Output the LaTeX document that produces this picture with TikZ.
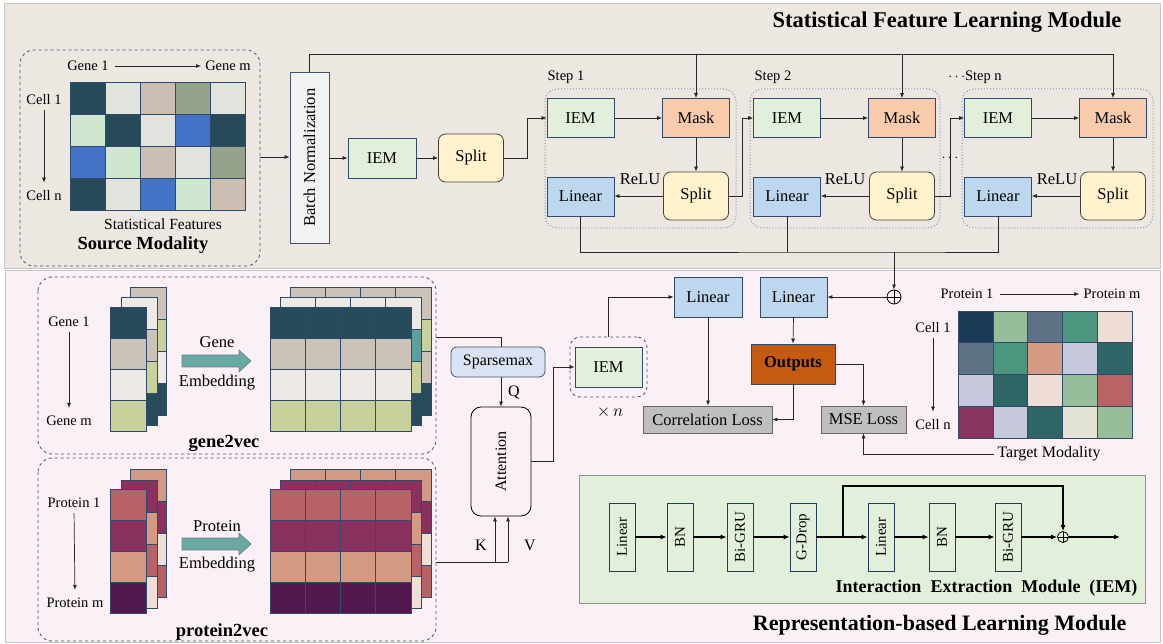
\documentclass[tikz,border=0pt]{standalone}
\usepackage{fontspec}
\setmainfont{Liberation Serif}
\usepackage{graphicx}
\usetikzlibrary{arrows.meta}

% panel and block colours
\definecolor{topbg}{HTML}{ECE7E1}
\definecolor{botbg}{HTML}{FBF0F6}
\definecolor{panelline}{HTML}{C4C4C4}
\definecolor{boxline}{HTML}{2F4A6B}
\definecolor{iemfill}{HTML}{E2EFDA}
\definecolor{maskfill}{HTML}{F8CBAD}
\definecolor{splitfill}{HTML}{FFF2CC}
\definecolor{linfill}{HTML}{BDD7EE}
\definecolor{outfill}{HTML}{C55A11}
\definecolor{lossfill}{HTML}{BFBFBF}
\definecolor{sparsefill}{HTML}{DAE3F3}
\definecolor{bnfill}{HTML}{F2F2F2}
\definecolor{stepline}{HTML}{7F95B5}
\definecolor{dashline}{HTML}{44546A}
\definecolor{wirecol}{HTML}{262626}
\definecolor{embarrow}{HTML}{6AA8A4}
\definecolor{iemframe}{HTML}{8A968A}
\definecolor{gridline}{HTML}{2F4A6B}
% source matrix
\definecolor{sDark}{HTML}{264A5A}
\definecolor{sGrey}{HTML}{E1E3DD}
\definecolor{sTaupe}{HTML}{CBBFB4}
\definecolor{sSage}{HTML}{95A38C}
\definecolor{sMint}{HTML}{CFE6D1}
\definecolor{sBlue}{HTML}{4472C4}
% gene embedding
\definecolor{gDark}{HTML}{274B5B}
\definecolor{gTaupe}{HTML}{CCC3B8}
\definecolor{gLight}{HTML}{EDEAE5}
\definecolor{gOlive}{HTML}{C8D09B}
\definecolor{gTeal}{HTML}{5F9EA0}
% protein embedding
\definecolor{pRed}{HTML}{B76266}
\definecolor{pMag}{HTML}{8A3160}
\definecolor{pSalmon}{HTML}{D39A83}
\definecolor{pPurple}{HTML}{51194D}
\definecolor{pCream}{HTML}{EFDFD6}
% target matrix
\definecolor{tNavy}{HTML}{1B3A57}
\definecolor{tSage}{HTML}{97BD9A}
\definecolor{tSlate}{HTML}{5E7286}
\definecolor{tTeal}{HTML}{4C9680}
\definecolor{tCream}{HTML}{EEDDD3}
\definecolor{tSalmon}{HTML}{D49A84}
\definecolor{tLav}{HTML}{C5C9DB}
\definecolor{tDTeal}{HTML}{2E6668}
\definecolor{tRed}{HTML}{B86465}
\definecolor{tMag}{HTML}{8A3560}
\definecolor{tIvory}{HTML}{E2E3D5}

\newcommand\myfs[1]{\fontsize{#1}{#1}\selectfont}

% grid of coloured cells: x, y, cell width, cell height, {{row},{row},...}
\newcommand\cellgrid[5]{%
  \foreach \rowc [count=\ri from 0] in {#5}{%
    \foreach \cc [count=\ci from 0] in \rowc{%
      \filldraw[fill=\cc, draw=gridline, line width=0.6pt]
        ({#1+\ci*#3},{#2+\ri*#4}) rectangle ++(#3,#4);
    }%
  }%
}

\begin{document}
\begin{tikzpicture}[x=1pt,y=-1pt,
  wire/.style={draw=wirecol, line width=0.7pt},
  arr/.style={wire, -{Latex[length=5pt,width=4pt]}},
  thickarr/.style={draw=black, line width=1.3pt, -{Latex[length=6pt,width=5pt]}},
  blk/.style={draw=boxline, line width=0.8pt, inner sep=0pt, font=\myfs{16.5}},
  iembox/.style={blk, fill=iemfill, minimum width=67, minimum height=39},
  maskbox/.style={blk, fill=maskfill, minimum width=67, minimum height=39},
  linbox/.style={blk, fill=linfill, minimum width=67, minimum height=39},
  splitbox/.style={blk, draw=black!75, fill=splitfill, rounded corners=7, minimum width=65, minimum height=48},
  lossbox/.style={blk, draw=black!60, fill=lossfill, minimum height=27},
  stepframe/.style={draw=stepline, dotted, line width=1pt, rounded corners=12},
  dashframe/.style={draw=dashline, dashed, line width=0.8pt, rounded corners=14},
  lbl/.style={inner sep=1pt, font=\myfs{14.5}},
  smallblk/.style={draw=boxline!80!black, line width=0.7pt, fill=iemfill, inner sep=0pt,
    minimum width=26, minimum height=68, font=\myfs{15}},
  oplus/.style={circle, draw=black, line width=0.8pt, inner sep=0pt, minimum size=#1,
    path picture={\draw[line width=0.8pt] (path picture bounding box.north) -- (path picture bounding box.south)
      (path picture bounding box.west) -- (path picture bounding box.east);}},
]
\useasboundingbox (0,0) rectangle (1163,644);

% ---------- panels ----------
\filldraw[fill=topbg, draw=panelline] (4,3) rectangle (1160,268);
\filldraw[fill=botbg, draw=panelline] (5,270) rectangle (1160,642);

\node[font=\bfseries\myfs{22.5}, anchor=east] (title1) at (1125,22) {Statistical Feature Learning Module};
\node[font=\bfseries\myfs{22}, anchor=east] (title2) at (1130,625) {Representation-based Learning Module};

% ---------- source modality ----------
\draw[dashframe] (20,50) rectangle (260,266);
\node[lbl] (sg1) at (88,66) {Gene 1};
\node[lbl] (sgm) at (228,66) {Gene m};
\draw[arr, shorten <=5pt, shorten >=3pt] (sg1.east) -- (sgm.west);
\node[lbl] (sc1) at (44,100) {Cell 1};
\node[lbl] (scn) at (44,196) {Cell n};
\draw[arr, shorten <=4pt, shorten >=7pt] (sc1.south) -- (scn.north);
\cellgrid{70}{82}{35}{32}{{sDark,sGrey,sTaupe,sSage,sGrey},{sMint,sDark,sGrey,sBlue,sDark},{sBlue,sMint,sTaupe,sGrey,sSage},{sDark,sGrey,sBlue,sMint,sTaupe}}
\node[font=\myfs{15.5}] (sfeat) at (163,224) {Statistical Features};
\node[font=\bfseries\myfs{18.5}] (smod) at (143,245) {Source Modality};
\coordinate (srcout) at (260,157);

% ---------- statistical feature learning ----------
\node[blk, draw=dashline, fill=bnfill, minimum width=39, minimum height=171] (bn) at (309.5,157.5)
  {\rotatebox{90}{\myfs{16.5}Batch Normalization}};
\draw[arr] (srcout) -- (bn.west |- srcout);

\node[iembox, minimum width=68, minimum height=40] (iem0) at (382,158) {IEM};
\node[splitbox] (split0) at (471,158) {Split};
\draw[arr] (bn.east |- iem0) -- (iem0.west);
\draw[arr] (iem0.east) -- (split0.west);

% step frames
\draw[stepframe] (545,89) rectangle (736,228);
\draw[stepframe] (750,89) rectangle (940,228);
\draw[stepframe] (962,89) rectangle (1153,228);
\node[lbl, font=\myfs{14.5}] (st1) at (566,77) {Step 1};
\node[lbl, font=\myfs{14.5}] (st2) at (773,77) {Step 2};
\node[lbl, font=\myfs{14.5}] (stn) at (975,77) {$\cdots$Step n};
\node[lbl, font=\myfs{14.5}] (sdots) at (950,158) {$\cdots$};

% step 1
\node[iembox] (iem1) at (580.5,118) {IEM};
\node[maskbox] (mask1) at (696,118) {Mask};
\node[splitbox] (split1) at (696,196) {Split};
\node[linbox] (lin1) at (580.5,196.5) {Linear};
% step 2
\node[iembox] (iem2) at (787,118) {IEM};
\node[maskbox] (mask2) at (902,118) {Mask};
\node[splitbox] (split2) at (902,196) {Split};
\node[linbox] (lin2) at (787,196.5) {Linear};
% step n
\node[iembox] (iemn) at (998,118) {IEM};
\node[maskbox] (maskn) at (1113,118) {Mask};
\node[splitbox] (splitn) at (1113,196) {Split};
\node[linbox] (linn) at (998,196.5) {Linear};

\foreach \s/\rx in {1/640,2/845,n/1057}{
  \draw[arr] (iem\s.east) -- (mask\s.west);
  \draw[arr] (mask\s.south) -- (split\s.north);
  \draw[arr] (split\s.west) -- (lin\s.east |- split\s.west);
  \node[font=\myfs{16.5}] (relu\s) at (\rx,179) {ReLU};
}

\draw[arr] (split0.east) -- ++(23,0) |- (iem1.west);
\draw[arr] (split1.east) -- ++(13,0) |- (iem2.west);
\draw[arr] (split2.east) -- ++(15,0) |- (iemn.west);

% shared input line from batch normalization to every mask
\coordinate (topR) at (1113,54);
\draw[wire] (bn.north) |- (topR);
\draw[arr] (topR) -- (maskn.north);
\draw[arr] (mask1.north |- topR) -- (mask1.north);
\draw[arr] (mask2.north |- topR) -- (mask2.north);

% step outputs summed
\coordinate (bus) at (894,252);
\node[oplus=14] (osum) at (894,297) {};
\draw[wire] (lin1.south) |- (bus) -| (linn.south);
\draw[wire] (lin2.south) -- (lin2.south |- bus);
\draw[arr] (bus) -- (osum.north);

% ---------- gene2vec ----------
\draw[dashframe] (38,277) rectangle (436,454);
\node[lbl] (gg1) at (69,322) {Gene 1};
\node[lbl] (ggm) at (69,421) {Gene m};
\draw[arr, shorten <=4pt, shorten >=7pt] (gg1.south) -- (ggm.north);
\cellgrid{130}{287}{36}{32}{{gTaupe},{gOlive},{gLight},{gDark}}
\cellgrid{121}{297}{36}{32}{{gLight},{gTaupe},{gOlive},{gDark}}
\cellgrid{110}{307}{36}{31}{{gDark},{gTaupe},{gLight},{gOlive}}
\filldraw[fill=embarrow, draw=boxline!70, line width=0.6pt]
  (182,355) -- (239,355) -- (239,350) -- (251,361) -- (239,372) -- (239,367) -- (182,367) -- cycle;
\node[font=\myfs{16.5}] (gtxt1) at (217,342) {Gene};
\node[font=\myfs{16.5}] (gtxt2) at (217,383) {Embedding};
\cellgrid{290}{287}{35.25}{32}{{gTaupe,gTaupe,gTaupe,gTaupe},{gOlive,gOlive,gOlive,gOlive},{gTaupe,gTaupe,gTaupe,gTaupe},{gDark,gDark,gDark,gDark}}
\cellgrid{280}{297}{35.25}{32}{{gLight,gLight,gLight,gLight},{gTeal,gTeal,gTeal,gTeal},{gOlive,gOlive,gOlive,gOlive},{gDark,gDark,gDark,gDark}}
\cellgrid{270}{307}{35.25}{31}{{gDark,gDark,gDark,gDark},{gTaupe,gTaupe,gTaupe,gTaupe},{gLight,gLight,gLight,gLight},{gOlive,gOlive,gOlive,gOlive}}
\node[font=\bfseries\myfs{18.5}] (g2vlbl) at (224,443) {gene2vec};
\coordinate (g2vout) at (436,337);

% ---------- protein2vec ----------
\draw[dashframe] (38,458) rectangle (436,641);
\node[lbl] (pp1) at (74,503) {Protein 1};
\node[lbl] (ppm) at (75,603) {Protein m};
\draw[arr, shorten <=4pt, shorten >=7pt] (pp1.south) -- (ppm.north);
\cellgrid{130}{469}{36}{32}{{pSalmon},{pMag},{pCream},{pRed}}
\cellgrid{121}{480}{36}{32}{{pMag},{pSalmon},{pRed},{pCream}}
\cellgrid{110}{489}{36}{31}{{pRed},{pMag},{pSalmon},{pPurple}}
\filldraw[fill=embarrow, draw=boxline!70, line width=0.6pt]
  (182,538) -- (239,538) -- (239,533) -- (251,544) -- (239,555) -- (239,550) -- (182,550) -- cycle;
\node[font=\myfs{16.5}] (ptxt1) at (217,526) {Protein};
\node[font=\myfs{16.5}] (ptxt2) at (217,565) {Embedding};
\cellgrid{290}{469}{35.25}{32}{{pSalmon,pSalmon,pSalmon,pSalmon},{pMag,pMag,pMag,pMag},{pCream,pCream,pCream,pCream},{pRed,pRed,pRed,pRed}}
\cellgrid{280}{480}{35.25}{32}{{pMag,pMag,pMag,pMag},{pSalmon,pSalmon,pSalmon,pSalmon},{pRed,pRed,pRed,pRed},{pCream,pCream,pCream,pCream}}
\cellgrid{270}{489}{35.25}{31}{{pRed,pRed,pRed,pRed},{pMag,pMag,pMag,pMag},{pSalmon,pSalmon,pSalmon,pSalmon},{pPurple,pPurple,pPurple,pPurple}}
\node[font=\bfseries\myfs{18.5}] (p2vlbl) at (222,632) {protein2vec};
\coordinate (p2vout) at (436,562);

% ---------- attention and heads ----------
\node[blk, draw=dashline, fill=sparsefill, rounded corners=6, minimum width=94, minimum height=30, font=\myfs{16}] (sparse) at (498,362) {Sparsemax};
\node[blk, draw=black, fill=none, rounded corners=10, minimum width=60, minimum height=109] (attn) at (501,461.5)
  {\rotatebox{90}{\myfs{16}Attention}};
\draw[wire] (g2vout) -- (attn.north |- g2vout) -- (attn.north |- sparse.north);
\draw[arr] (attn.north |- sparse.south) -- (attn.north);
\node[font=\myfs{16}] (qlbl) at (514,393) {Q};
\coordinate (kin) at ([xshift=-6pt]attn.south);
\coordinate (vin) at ([xshift=7pt]attn.south);
\draw[wire] (p2vout) -- (vin |- p2vout);
\draw[arr] (kin |- p2vout) -- (kin);
\draw[arr] (vin |- p2vout) -- (vin);
\node[font=\myfs{16}] (klbl) at (481,545) {K};
\node[font=\myfs{16}] (vlbl) at (530,545) {V};

\node[draw=dashline, dashed, line width=0.8pt, rounded corners=10, minimum width=77, minimum height=60, inner sep=0pt] (iemx) at (608.5,367) {};
\node[iembox, minimum width=67, minimum height=40] (iemr) at (608.5,367) {IEM};
\node[font=\myfs{17}] (times) at (610,412) {$\times\,n$};
\coordinate (attbend) at (553,461.5);
\draw[arr] (attn.east) -- (attbend) |- (iemr.west);

\node[linbox, minimum width=68, minimum height=40] (linA) at (708,297) {Linear};
\node[linbox, minimum width=67, minimum height=40] (linB) at (793.5,297) {Linear};
\draw[arr] (iemx.north) |- (linA.west);
\draw[arr] (osum.west) -- (linB.east);

\node[blk, draw=boxline, fill=outfill, minimum width=84, minimum height=40, font=\bfseries\myfs{16.5}] (outp) at (793,364) {Outputs};
\node[lossbox, minimum width=129] (corr) at (707.5,419.5) {Correlation Loss};
\node[lossbox, minimum width=85] (mse) at (863.5,419.5) {MSE Loss};
\draw[arr] (linB.south) -- (outp.north);
\draw[arr] (linA.south) -- (linA.south |- corr.north);
\draw[arr] (outp.south) |- (corr.east);
\draw[arr] (outp.east) -| (mse.north);

% ---------- target modality ----------
\node[lbl] (tp1) at (967,294) {Protein 1};
\node[lbl] (tpm) at (1112,294) {Protein m};
\draw[arr, shorten <=5pt, shorten >=3pt] (tp1.east) -- (tpm.west);
\node[lbl] (tc1) at (933,328) {Cell 1};
\node[lbl] (tcn) at (933,425) {Cell n};
\draw[arr, shorten <=4pt, shorten >=7pt] (tc1.south) -- (tcn.north);
\cellgrid{958}{311}{34.8}{31.75}{{tNavy,tSage,tSlate,tTeal,tCream},{tSlate,tTeal,tSalmon,tLav,tDTeal},{tLav,tDTeal,tCream,tSage,tRed},{tMag,tLav,tDTeal,tIvory,tSage}}
\node[font=\myfs{16}] (tgt) at (1049,454) {Target Modality};
\draw[arr] (tgt.west) -| (mse.south);

% ---------- interaction extraction module ----------
\filldraw[fill=iemfill, draw=iemframe, line width=0.8pt] (579,475) rectangle (1145,603);
\node[smallblk] (e1) at (622,537) {\rotatebox{90}{Linear}};
\node[smallblk] (e2) at (680,537) {\rotatebox{90}{BN}};
\node[smallblk] (e3) at (740,537) {\rotatebox{90}{Bi-GRU}};
\node[smallblk] (e4) at (803,537) {\rotatebox{90}{G-Drop}};
\node[smallblk] (e5) at (881,537) {\rotatebox{90}{Linear}};
\node[smallblk] (e6) at (942,537) {\rotatebox{90}{BN}};
\node[smallblk] (e7) at (1008,537) {\rotatebox{90}{Bi-GRU}};
\node[oplus=11] (esum) at (1063,537) {};
\coordinate (eout) at (1120,537);
\coordinate (eskip) at (843,537);
\foreach \a/\b in {e1/e2,e2/e3,e3/e4,e5/e6,e6/e7}{\draw[thickarr] (\a.east) -- (\b.west);}
\draw[thickarr] (e4.east) -- (e5.west);
\draw[thickarr] (e7.east) -- (esum.west);
\draw[thickarr] (esum.east) -- (eout);
\draw[thickarr] (eskip) -- (843,486) -| (esum.north);
\node[font=\bfseries\myfs{18}, anchor=east] (iemtitle) at (1141,588) {Interaction\ \ Extraction\ \ Module\ \ (IEM)};

\end{tikzpicture}
\end{document}
